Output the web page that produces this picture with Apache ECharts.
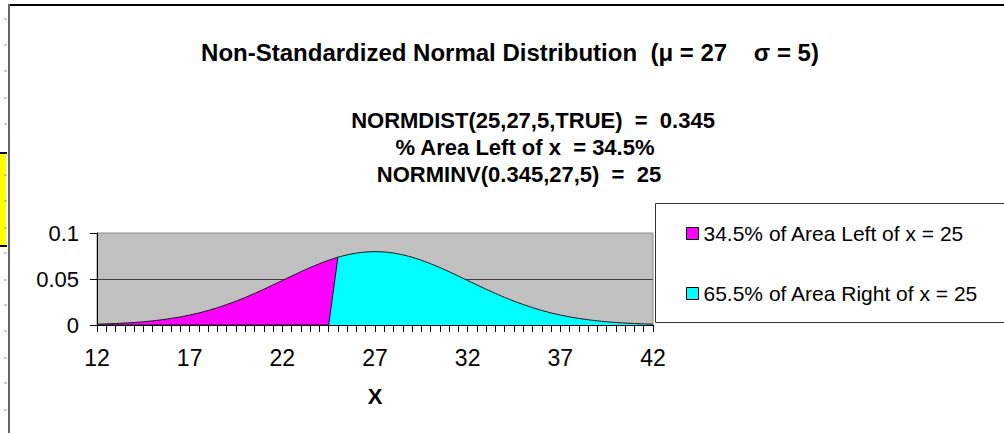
<!DOCTYPE html>
<html>
<head>
<meta charset="utf-8">
<script src="https://cdn.jsdelivr.net/npm/echarts@6/dist/echarts.min.js"></script>
<style>
  html, body { margin: 0; padding: 0; background: #fff; overflow: hidden; }
  #main { width: 1004px; height: 433px; }
</style>
</head>
<body>
<div id="main"></div>
<script>
// x categories, 0.5 steps from 12 to 42
var xCats = ['12', '12.5', '13', '13.5', '14', '14.5', '15', '15.5', '16', '16.5',
  '17', '17.5', '18', '18.5', '19', '19.5', '20', '20.5', '21', '21.5',
  '22', '22.5', '23', '23.5', '24', '24.5', '25', '25.5', '26', '26.5',
  '27', '27.5', '28', '28.5', '29', '29.5', '30', '30.5', '31', '31.5',
  '32', '32.5', '33', '33.5', '34', '34.5', '35', '35.5', '36', '36.5',
  '37', '37.5', '38', '38.5', '39', '39.5', '40', '40.5', '41', '41.5', '42'];

// density left of x = 25 (zero afterwards)
var leftArea = [0.0009, 0.0012, 0.0016, 0.0021, 0.0027, 0.0035, 0.0045, 0.0057, 0.0071, 0.0088,
  0.0108, 0.0131, 0.0158, 0.0188, 0.0222, 0.0259, 0.0299, 0.0343, 0.0388, 0.0436,
  0.0484, 0.0532, 0.0579, 0.0625, 0.0666, 0.0704, 0.0737, 0, 0, 0,
  0, 0, 0, 0, 0, 0, 0, 0, 0, 0,
  0, 0, 0, 0, 0, 0, 0, 0, 0, 0,
  0, 0, 0, 0, 0, 0, 0, 0, 0, 0, 0];

// density right of x = 25 (zero before)
var rightArea = [0, 0, 0, 0, 0, 0, 0, 0, 0, 0,
  0, 0, 0, 0, 0, 0, 0, 0, 0, 0,
  0, 0, 0, 0, 0, 0, 0.0737, 0.0763, 0.0782, 0.0794,
  0.0798, 0.0794, 0.0782, 0.0763, 0.0737, 0.0704, 0.0666, 0.0625, 0.0579, 0.0532,
  0.0484, 0.0436, 0.0388, 0.0343, 0.0299, 0.0259, 0.0222, 0.0188, 0.0158, 0.0131,
  0.0108, 0.0088, 0.0071, 0.0057, 0.0045, 0.0035, 0.0027, 0.0021, 0.0016, 0.0012, 0.0009];

var seriesNames = ['34.5% of Area Left of x = 25', '65.5% of Area Right of x = 25'];
var titleLines = [
  'Non-Standardized Normal Distribution  (\u03bc = 27    \u03c3 = 5)',
  'NORMDIST(25,27,5,TRUE)  =  0.345',
  '% Area Left of x  = 34.5%',
  'NORMINV(0.345,27,5)  =  25'
];

var FONT = "'Liberation Sans', Arial, sans-serif";

var myChart = echarts.init(document.getElementById('main'), null, { renderer: 'svg' });

// little row marks of the sheet behind the chart
var sheetMarks = [];
[19, 45, 71, 98, 124, 175, 201, 228, 253, 280, 305, 331, 358, 383, 410].forEach(function (y) {
  sheetMarks.push({
    type: 'line', silent: true,
    shape: { x1: 4, y1: y, x2: 7, y2: y },
    style: { stroke: '#999', lineWidth: 1 }
  });
});

var option = {
  backgroundColor: '#fff',
  animation: false,
  grid: {
    left: 97, right: 351, top: 233, bottom: 108,
    show: true,
    backgroundColor: '#c0c0c0',
    borderColor: '#8c8c8c',
    borderWidth: 1
  },
  legend: {
    orient: 'vertical',
    left: 681,
    top: 218,
    icon: 'rect',
    itemWidth: 12,
    itemHeight: 12,
    itemGap: 39,
    itemStyle: { borderColor: '#000', borderWidth: 1 },
    textStyle: { fontFamily: FONT, fontSize: 21, color: '#000', lineHeight: 20 },
    data: seriesNames
  },
  xAxis: {
    type: 'category',
    boundaryGap: false,
    data: xCats,
    name: 'X',
    nameLocation: 'middle',
    nameGap: 60,
    nameTextStyle: { fontFamily: FONT, fontSize: 22, fontWeight: 'bold', color: '#000' },
    axisLine: { show: true, lineStyle: { color: '#000', width: 1 } },
    axisTick: { show: true, interval: 0, length: 7, lineStyle: { color: '#000' } },
    axisLabel: { interval: 9, margin: 21, fontFamily: FONT, fontSize: 23, color: '#000' },
    splitLine: { show: false }
  },
  yAxis: {
    type: 'value',
    min: 0,
    max: 0.1,
    interval: 0.05,
    axisLine: { show: true, lineStyle: { color: '#000', width: 1 } },
    axisTick: { show: true, length: 7, lineStyle: { color: '#000' } },
    axisLabel: { margin: 18, fontFamily: FONT, fontSize: 22, color: '#000' },
    splitLine: { show: true, showMinLine: false, showMaxLine: false, lineStyle: { color: '#404040', width: 1 } }
  },
  series: [
    {
      name: seriesNames[0],
      type: 'line',
      z: 2,
      data: leftArea,
      symbol: 'none',
      itemStyle: { color: '#ff00ff' },
      lineStyle: { color: '#1a1a1a', width: 1 },
      areaStyle: { color: '#ff00ff', opacity: 1 }
    },
    {
      name: seriesNames[1],
      type: 'line',
      z: 3,
      data: rightArea,
      symbol: 'none',
      itemStyle: { color: '#00ffff' },
      lineStyle: { color: '#1a1a1a', width: 1 },
      areaStyle: { color: '#00ffff', opacity: 1 }
    }
  ],
  graphic: [
    // chart frame
    { type: 'line', silent: true, shape: { x1: 8, y1: 5, x2: 1004, y2: 5 }, style: { stroke: '#000', lineWidth: 2 } },
    { type: 'line', silent: true, shape: { x1: 9, y1: 4, x2: 9, y2: 433 }, style: { stroke: '#666', lineWidth: 2 } },
    // yellow cell peeking at the left
    { type: 'rect', silent: true, shape: { x: 0, y: 153, width: 6, height: 93 }, style: { fill: '#ffff00', stroke: null } },
    { type: 'line', silent: true, shape: { x1: 0, y1: 153, x2: 7, y2: 153 }, style: { stroke: '#000', lineWidth: 2 } },
    { type: 'line', silent: true, shape: { x1: 0, y1: 246, x2: 7, y2: 246 }, style: { stroke: '#000', lineWidth: 2 } },
    // legend box, open on the right where it runs off the picture
    { type: 'rect', silent: true, z: -1, shape: { x: 655, y: 203, width: 349, height: 120 }, style: { fill: '#fff', stroke: null } },
    { type: 'polyline', silent: true, shape: { points: [[1004, 203.5], [655.5, 203.5], [655.5, 322.5], [1004, 322.5]] },
      style: { stroke: '#333', lineWidth: 1, fill: null } },
    // titles
    { type: 'text', silent: true, x: 510, y: 52, style: { text: titleLines[0], font: 'bold 24px ' + FONT, fill: '#000', textAlign: 'center', textVerticalAlign: 'middle' } },
    { type: 'text', silent: true, x: 533, y: 120, style: { text: titleLines[1], font: 'bold 22px ' + FONT, fill: '#000', textAlign: 'center', textVerticalAlign: 'middle' } },
    { type: 'text', silent: true, x: 525, y: 147, style: { text: titleLines[2], font: 'bold 22px ' + FONT, fill: '#000', textAlign: 'center', textVerticalAlign: 'middle' } },
    { type: 'text', silent: true, x: 519, y: 174, style: { text: titleLines[3], font: 'bold 22px ' + FONT, fill: '#000', textAlign: 'center', textVerticalAlign: 'middle' } }
  ].concat(sheetMarks)
};

myChart.setOption(option);
</script>
</body>
</html>
